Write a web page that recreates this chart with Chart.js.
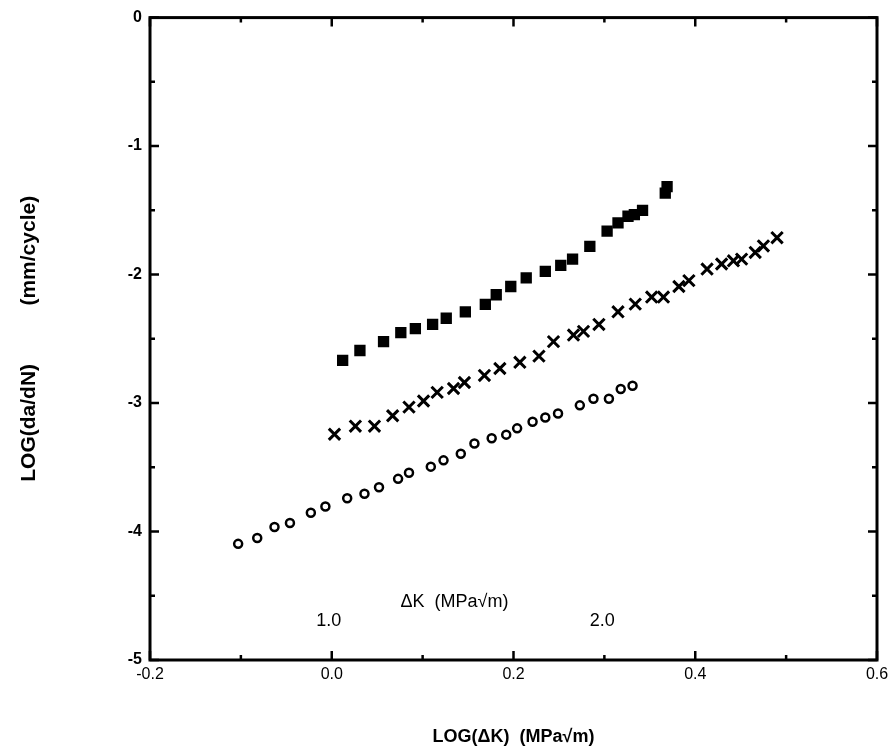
<!DOCTYPE html>
<html>
<head>
<meta charset="utf-8">
<script src="https://cdn.jsdelivr.net/npm/chart.js@4.4.1/dist/chart.umd.min.js"></script>
<style>
  html, body { margin: 0; padding: 0; background: #fff; }
  #wrap { width: 896px; height: 752px; }
</style>
</head>
<body>
<div id="wrap"><canvas id="fcgChart" width="896" height="752"></canvas></div>
<script>
// filled squares
const squareX = [0.012, 0.031, 0.057, 0.076, 0.092, 0.111, 0.126, 0.147, 0.169, 0.181, 0.197, 0.214,
  0.235, 0.252, 0.265, 0.284, 0.303, 0.315, 0.326, 0.333, 0.342, 0.367, 0.369];
const squareY = [-2.668, -2.591, -2.522, -2.452, -2.421, -2.388, -2.340, -2.290, -2.232, -2.157, -2.093, -2.026,
  -1.975, -1.929, -1.880, -1.780, -1.662, -1.597, -1.546, -1.533, -1.500, -1.366, -1.315];

// crosses
const crossX = [0.003, 0.026, 0.047, 0.067, 0.085, 0.101, 0.116, 0.134, 0.146, 0.168, 0.185, 0.207, 0.228,
  0.244, 0.266, 0.277, 0.294, 0.315, 0.334, 0.352, 0.365, 0.382, 0.393, 0.413, 0.429, 0.442, 0.451, 0.466, 0.475, 0.490];
const crossY = [-3.243, -3.180, -3.180, -3.099, -3.032, -2.984, -2.917, -2.887, -2.840, -2.785, -2.731, -2.683, -2.635,
  -2.522, -2.471, -2.442, -2.388, -2.290, -2.230, -2.175, -2.175, -2.093, -2.047, -1.957, -1.918, -1.893, -1.880, -1.828, -1.777, -1.713];

// open circles
const circleX = [-0.103, -0.082, -0.063, -0.046, -0.023, -0.007, 0.017, 0.036, 0.052, 0.073, 0.085, 0.109, 0.123,
  0.142, 0.157, 0.176, 0.192, 0.204, 0.221, 0.235, 0.249, 0.273, 0.288, 0.305, 0.318, 0.331];
const circleY = [-4.096, -4.050, -3.965, -3.934, -3.854, -3.805, -3.741, -3.706, -3.655, -3.590, -3.542, -3.495, -3.446,
  -3.395, -3.315, -3.274, -3.246, -3.197, -3.146, -3.112, -3.082, -3.018, -2.966, -2.966, -2.891, -2.866];

const xTicks = [-0.2, 0.0, 0.2, 0.4, 0.6];
const yTicks = [0, -1, -2, -3, -4, -5];

// secondary delta-K scale printed inside the plot
const dkValues = [1, 2];
const dkLabels = ['1.0', '2.0'];

function toPoints(xs, ys) {
  return xs.map((x, i) => ({ x: x, y: ys[i] }));
}

const fontName = '"Liberation Sans", Arial, Helvetica, sans-serif';

// frame, inward ticks and the delta-K labels
const frameTicks = {
  id: 'frameTicks',
  afterDatasetsDraw(chart) {
    const { ctx, chartArea: a, scales: { x, y } } = chart;
    ctx.save();
    ctx.strokeStyle = '#000';
    ctx.lineWidth = 3;
    ctx.strokeRect(a.left, a.top, a.right - a.left, a.bottom - a.top);

    ctx.lineWidth = 2.5;
    for (let i = 0; i <= 8; i++) {
      const v = -0.2 + i * 0.1;
      const px = x.getPixelForValue(v);
      const len = i % 2 === 0 ? 9 : 5;
      ctx.beginPath();
      ctx.moveTo(px, a.bottom); ctx.lineTo(px, a.bottom - len);
      ctx.moveTo(px, a.top); ctx.lineTo(px, a.top + len);
      ctx.stroke();
    }
    for (let i = 0; i <= 10; i++) {
      const v = -5 + i * 0.5;
      const py = y.getPixelForValue(v);
      const len = i % 2 === 0 ? 9 : 5;
      ctx.beginPath();
      ctx.moveTo(a.left, py); ctx.lineTo(a.left + len, py);
      ctx.moveTo(a.right, py); ctx.lineTo(a.right - len, py);
      ctx.stroke();
    }

    ctx.fillStyle = '#000';
    ctx.font = '18px ' + fontName;
    ctx.textAlign = 'center';
    ctx.textBaseline = 'middle';
    ctx.fillText('\u0394K  (MPa\u221Am)', x.getPixelForValue(0.135), y.getPixelForValue(-4.55));
    dkValues.forEach((k, i) => {
      ctx.fillText(dkLabels[i], x.getPixelForValue(Math.log10(k)) - 3, y.getPixelForValue(-4.70));
    });
    ctx.restore();
  }
};

const ctx = document.getElementById('fcgChart').getContext('2d');
new Chart(ctx, {
  type: 'scatter',
  data: {
    datasets: [
      {
        label: 'squares',
        data: toPoints(squareX, squareY),
        pointStyle: 'rect',
        pointRadius: 8,
        backgroundColor: '#000',
        borderColor: '#000',
        borderWidth: 0
      },
      {
        label: 'crosses',
        data: toPoints(crossX, crossY),
        pointStyle: 'crossRot',
        pointRadius: 8,
        borderColor: '#000',
        borderWidth: 3
      },
      {
        label: 'circles',
        data: toPoints(circleX, circleY),
        pointStyle: 'circle',
        pointRadius: 4,
        backgroundColor: '#fff',
        borderColor: '#000',
        borderWidth: 2.5
      }
    ]
  },
  options: {
    responsive: false,
    animation: false,
    devicePixelRatio: 1,
    layout: { padding: { top: 11, right: 19, left: 0, bottom: 0 } },
    plugins: {
      legend: { display: false },
      tooltip: { enabled: false }
    },
    scales: {
      x: {
        type: 'linear',
        min: -0.2,
        max: 0.6,
        afterBuildTicks: scale => { scale.ticks = xTicks.map(v => ({ value: v })); },
        afterFit: scale => { scale.height = 92; },
        grid: { display: false, drawTicks: false },
        border: { display: false },
        ticks: {
          padding: 5,
          color: '#000',
          font: { family: fontName, size: 16 },
          maxRotation: 0,
          callback: v => v.toFixed(1)
        },
        title: {
          display: true,
          text: 'LOG(\u0394K)  (MPa\u221Am)',
          color: '#000',
          font: { family: fontName, size: 18, weight: 'bold' },
          padding: { top: 0, bottom: 4 }
        }
      },
      y: {
        type: 'linear',
        min: -5,
        max: 0,
        afterBuildTicks: scale => { scale.ticks = yTicks.map(v => ({ value: v })); },
        afterFit: scale => { scale.width = 150; },
        grid: { display: false, drawTicks: false },
        border: { display: false },
        ticks: {
          padding: 8,
          color: '#000',
          font: { family: fontName, size: 16, weight: 'bold' },
          callback: v => String(v)
        },
        title: {
          display: true,
          text: 'LOG(da/dN)          (mm/cycle)',
          color: '#000',
          font: { family: fontName, size: 21, weight: 'bold' },
          padding: { top: 17, bottom: 0 }
        }
      }
    }
  },
  plugins: [frameTicks]
});
</script>
</body>
</html>
